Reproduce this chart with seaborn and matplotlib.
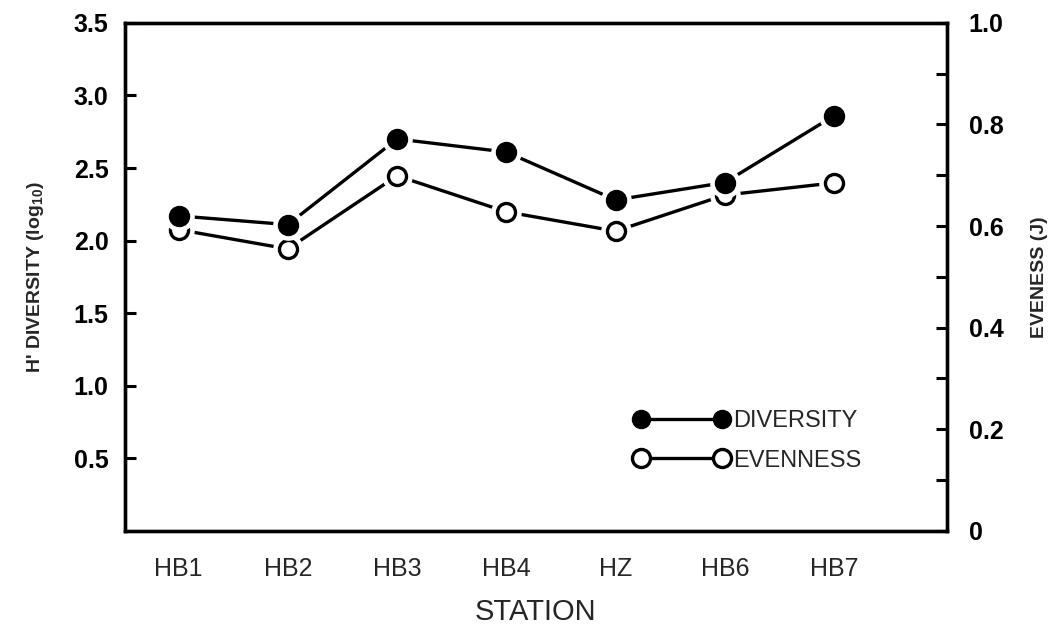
import numpy as np
import matplotlib
matplotlib.use("Agg")
import matplotlib.pyplot as plt
import seaborn as sns
from matplotlib.lines import Line2D
from matplotlib.ticker import MultipleLocator

# ------------------------------------------------------------------
# DATA
# ------------------------------------------------------------------
stations = ['HB1', 'HB2', 'HB3', 'HB4', 'HZ', 'HB6', 'HB7']
diversity = [2.17, 2.11, 2.70, 2.61, 2.28, 2.40, 2.86]      # H' (log10), left axis
evenness = [0.593, 0.555, 0.699, 0.628, 0.590, 0.661, 0.685]  # J, right axis

left_ticks = [0.5, 1.0, 1.5, 2.0, 2.5, 3.0, 3.5]
right_ticks = [0, 0.2, 0.4, 0.6, 0.8, 1.0]
right_ticklabels = ['0', '0.2', '0.4', '0.6', '0.8', '1.0']

# ------------------------------------------------------------------
# STYLE
# ------------------------------------------------------------------
sns.set_style('white')
plt.rcParams['font.family'] = ['Liberation Sans', 'DejaVu Sans']
plt.rcParams['mathtext.fontset'] = 'custom'
plt.rcParams['mathtext.rm'] = 'Liberation Sans:bold'

INK = 'black'
LW = 2.4
MS = 13

fig = plt.figure(figsize=(10.6, 6.35), dpi=100)
ax = fig.add_axes([0.118, 0.164, 0.775, 0.80])
ax2 = ax.twinx()

# diversity axis drawn above the evenness axis
ax.set_zorder(ax2.get_zorder() + 1)
ax.patch.set_visible(False)

x = np.arange(len(stations))


def draw_series(axis, y, filled):
    sns.lineplot(x=x, y=y, ax=axis, color=INK, lw=LW, sort=False,
                 estimator=None, zorder=2)
    # white halo so the line stops short of the marker
    axis.plot(x, y, 'o', ms=MS + 8, color='white', mec='white', zorder=3)
    axis.plot(x, y, 'o', ms=MS, mec=INK, mew=2.4,
              mfc=INK if filled else 'white', zorder=4)


draw_series(ax2, evenness, filled=False)
draw_series(ax, diversity, filled=True)

# ------------------------------------------------------------------
# AXES
# ------------------------------------------------------------------
ax.set_xlim(-0.49, 7.03)
ax.set_ylim(0, 3.5)
ax2.set_ylim(0, 1.0)

ax.set_xticks(x)
ax.set_xticklabels(stations, fontsize=18)
ax.tick_params(axis='x', length=0, pad=19)

ax.set_yticks(left_ticks)
ax.set_yticklabels([f'{t:.1f}' for t in left_ticks], fontsize=18,
                   fontweight='bold')
ax.tick_params(axis='y', direction='in', length=8, width=2.2, pad=12, colors=INK)

ax2.set_yticks(right_ticks)
ax2.set_yticklabels(right_ticklabels, fontsize=18, fontweight='bold')
ax2.yaxis.set_minor_locator(MultipleLocator(0.1))
ax2.tick_params(axis='y', which='both', direction='in', length=8, width=2.2,
                pad=16, colors=INK)

for a in (ax, ax2):
    for s in a.spines.values():
        s.set_linewidth(2.4)
        s.set_color(INK)
    a.grid(False)

ax.set_xlabel('STATION', fontsize=21, labelpad=12)
ax.set_ylabel("H' DIVERSITY (log$_{10}$)", fontsize=14, fontweight='bold',
              labelpad=20)
ax2.set_ylabel('EVENESS (J)', fontsize=14, fontweight='bold', labelpad=20)

# ------------------------------------------------------------------
# LEGEND
# ------------------------------------------------------------------
handles = [
    Line2D([], [], color=INK, lw=LW, marker='o', ms=MS, mfc=INK, mec=INK),
    Line2D([], [], color=INK, lw=LW, marker='o', ms=MS, mfc='white', mec=INK,
           mew=2.4),
]
ax.legend(handles, ['DIVERSITY', 'EVENNESS'], loc='lower left',
          bbox_to_anchor=(0.594, 0.075), frameon=False, numpoints=2,
          handlelength=4.0, handletextpad=0.2, labelspacing=0.75,
          prop={'size': 17})

fig.savefig('out.png', dpi=100, facecolor='white')
